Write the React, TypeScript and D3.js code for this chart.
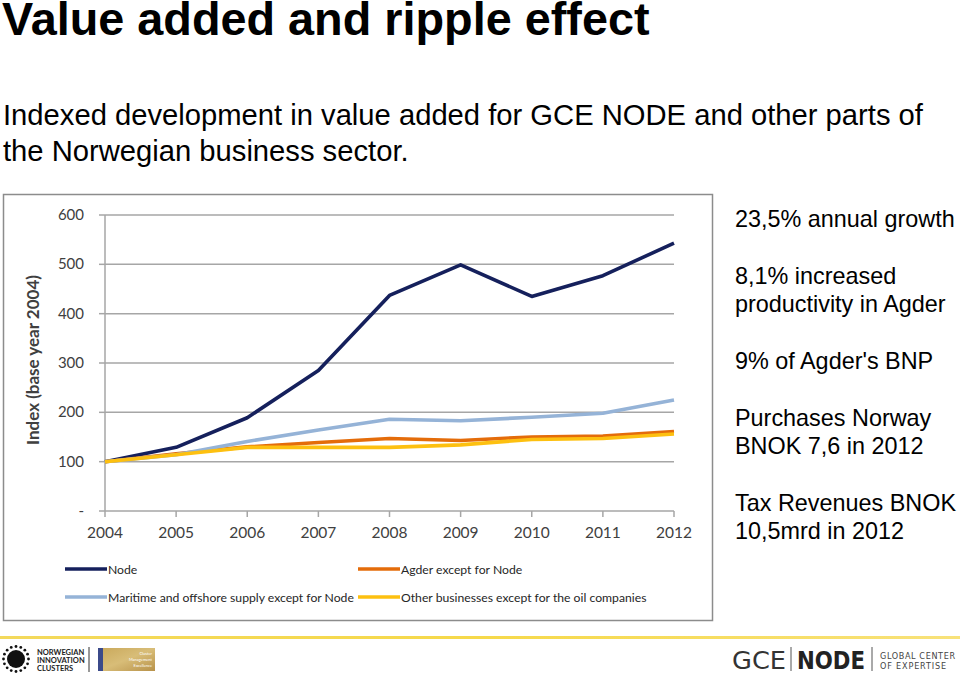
import React from "react";
import * as d3 from "d3";

const years = [2004, 2005, 2006, 2007, 2008, 2009, 2010, 2011, 2012];
const yTicks = [0, 100, 200, 300, 400, 500, 600];

const nodeValues = [100, 129, 189, 285, 437, 499, 435, 477, 543];
const agderValues = [100, 116, 130, 139, 147, 143, 150, 152, 161];
const maritimeValues = [100, 114, 141, 164, 186, 183, 190, 198, 225];
const otherValues = [100, 114, 129, 129, 129, 134, 145, 147, 156];

const seriesNames = [
  "Node",
  "Agder except for Node",
  "Maritime and offshore supply except for Node",
  "Other businesses except for the oil companies",
];
const seriesValues = [nodeValues, agderValues, maritimeValues, otherValues];
const seriesColors = ["#15205c", "#e46c0a", "#95b3d7", "#fdc010"];

const sideNotes = [
  ["23,5% annual growth"],
  ["8,1% increased", "productivity in Agder"],
  ["9% of Agder's BNP"],
  ["Purchases Norway", "BNOK 7,6 in 2012"],
  ["Tax Revenues BNOK", "10,5mrd in 2012"],
];

const W = 960;
const H = 675;
const m = { l: 105, r: 674, t: 215, b: 511 };
const chartFont = "Lato, 'Open Sans', sans-serif";
const slideFont = "'Liberation Sans', Arial, sans-serif";

export default function App() {
  const x = d3.scaleLinear().domain([2004, 2012]).range([m.l, m.r]);
  const y = d3.scaleLinear().domain([0, 600]).range([m.b, m.t]);
  const line = d3
    .line<number>()
    .x((_, i) => x(years[i]))
    .y((d) => y(d));

  // note blocks: baselines of each line
  let noteY = 227;
  const noteLines: { text: string; y: number }[] = [];
  sideNotes.forEach((block) => {
    block.forEach((t, i) => {
      noteLines.push({ text: t, y: noteY + i * 28 });
    });
    noteY += block.length * 28 + 29;
  });

  const legendPos = [
    { x: 65, y: 569 },
    { x: 358, y: 569 },
    { x: 65, y: 597 },
    { x: 358, y: 597 },
  ];

  return (
    <svg
      width={W}
      height={H}
      style={{ position: "absolute", left: 0, top: 0, background: "#fff" }}
    >
      {/* slide title */}
      <text x={2} y={35} fontFamily={slideFont} fontWeight="bold" fontSize={46.8} fill="#000">
        Value added and ripple effect
      </text>
      <text x={3} y={125} fontFamily={slideFont} fontSize={29.2} fill="#000">
        Indexed development in value added for GCE NODE and other parts of
      </text>
      <text x={3} y={161} fontFamily={slideFont} fontSize={29.2} fill="#000">
        the Norwegian business sector.
      </text>

      {/* chart frame */}
      <rect x={3.5} y={194.5} width={709} height={426} fill="#fff" stroke="#8c8c8c" strokeWidth={1.5} />

      {/* grid */}
      {yTicks.map((t) => (
        <g key={t}>
          {t > 0 && (
            <line x1={m.l} x2={m.r} y1={y(t)} y2={y(t)} stroke="#a6a6a6" strokeWidth={1.5} />
          )}
          <line x1={m.l - 6} x2={m.l} y1={y(t)} y2={y(t)} stroke="#a6a6a6" strokeWidth={1.5} />
          <text
            x={84}
            y={y(t) + 5}
            textAnchor="end"
            fontFamily={chartFont}
            fontSize={15}
            fill="#404040"
          >
            {t === 0 ? "-" : t}
          </text>
        </g>
      ))}
      <line x1={m.l} x2={m.l} y1={m.t} y2={m.b} stroke="#a6a6a6" strokeWidth={1.5} />
      <line x1={m.l} x2={m.r} y1={m.b} y2={m.b} stroke="#a6a6a6" strokeWidth={1.5} />
      {years.map((yr) => (
        <g key={yr}>
          <line x1={x(yr)} x2={x(yr)} y1={m.b} y2={m.b + 6} stroke="#a6a6a6" strokeWidth={1.5} />
          <text
            x={x(yr)}
            y={538}
            textAnchor="middle"
            fontFamily={chartFont}
            fontSize={15.5}
            fill="#404040"
          >
            {yr}
          </text>
        </g>
      ))}
      <text
        transform="translate(39,360) rotate(-90)"
        textAnchor="middle"
        fontFamily={chartFont}
        fontWeight="bold"
        fontSize={17}
        fill="#404040"
      >
        Index (base year 2004)
      </text>

      {/* series */}
      {seriesValues.map((vals, i) => (
        <path
          key={seriesNames[i]}
          d={line(vals) || ""}
          fill="none"
          stroke={seriesColors[i]}
          strokeWidth={3.6}
          strokeLinejoin="round"
        />
      ))}

      {/* legend */}
      {seriesNames.map((name, i) => (
        <g key={name}>
          <line
            x1={legendPos[i].x}
            x2={legendPos[i].x + 42}
            y1={legendPos[i].y}
            y2={legendPos[i].y}
            stroke={seriesColors[i]}
            strokeWidth={3.6}
          />
          <text
            x={legendPos[i].x + 43}
            y={legendPos[i].y + 4.5}
            fontFamily={chartFont}
            fontSize={12.2}
            fill="#262626"
          >
            {name}
          </text>
        </g>
      ))}

      {/* side notes */}
      {noteLines.map((n, i) => (
        <text key={i} x={735} y={n.y} fontFamily={slideFont} fontSize={23.4} fill="#000">
          {n.text}
        </text>
      ))}

      {/* footer */}
      <defs>
        <linearGradient id="footLine" x1="0" x2="1">
          <stop offset="0" stopColor="#f3d95c" />
          <stop offset="0.5" stopColor="#f6d94a" />
          <stop offset="1" stopColor="#f8e27a" />
        </linearGradient>
        <linearGradient id="goldBox" x1="0" x2="1" y1="0" y2="1">
          <stop offset="0" stopColor="#c9a85a" />
          <stop offset="0.5" stopColor="#d8bd78" />
          <stop offset="1" stopColor="#b8924a" />
        </linearGradient>
      </defs>
      <rect x={0} y={636} width={W} height={3} fill="url(#footLine)" />

      {/* Norwegian innovation clusters logo */}
      <g>
        <circle cx={16} cy={659} r={9} fill="#111" />
        {d3.range(16).map((k) => {
          const a = (k / 16) * Math.PI * 2;
          return (
            <circle key={k} cx={16 + Math.cos(a) * 12.5} cy={659 + Math.sin(a) * 12.5} r={1.4} fill="#111" />
          );
        })}
        <text x={37} y={655} fontFamily={chartFont} fontWeight="bold" fontSize={7.5} fill="#222">
          NORWEGIAN
        </text>
        <text x={37} y={663} fontFamily={chartFont} fontWeight="bold" fontSize={7.5} fill="#222">
          INNOVATION
        </text>
        <text x={37} y={671} fontFamily={chartFont} fontWeight="bold" fontSize={7.5} fill="#222">
          CLUSTERS
        </text>
        <line x1={89} x2={89} y1={647} y2={672} stroke="#333" strokeWidth={1} />
        <rect x={98} y={648} width={57} height={23} fill="url(#goldBox)" />
        <rect x={98} y={648} width={5} height={23} fill="#3b4a8a" />
        <text x={152} y={655} textAnchor="end" fontFamily={chartFont} fontSize={4} fill="#fff">
          Cluster
        </text>
        <text x={152} y={661} textAnchor="end" fontFamily={chartFont} fontSize={4} fill="#fff">
          Management
        </text>
        <text x={152} y={667} textAnchor="end" fontFamily={chartFont} fontSize={4} fill="#fff">
          Excellence
        </text>
      </g>

      {/* GCE NODE logo */}
      <g>
        <text x={732} y={669} fontFamily="'DejaVu Sans Condensed', sans-serif" fontSize={25} fill="#333" textLength={54} lengthAdjust="spacingAndGlyphs">
          GCE
        </text>
        <line x1={791} x2={791} y1={647} y2={671} stroke="#555" strokeWidth={1} />
        <text x={797} y={669} fontFamily="'DejaVu Sans Condensed', sans-serif" fontWeight="bold" fontSize={24} fill="#222" textLength={68} lengthAdjust="spacingAndGlyphs">
          NODE
        </text>
        <line x1={872} x2={872} y1={647} y2={671} stroke="#555" strokeWidth={1} />
        <text x={880} y={659} fontFamily="'DejaVu Sans Condensed', sans-serif" fontSize={9} fill="#444" textLength={75}>
          GLOBAL CENTER
        </text>
        <text x={880} y={669} fontFamily="'DejaVu Sans Condensed', sans-serif" fontSize={9} fill="#444" textLength={66}>
          OF EXPERTISE
        </text>
      </g>
    </svg>
  );
}
